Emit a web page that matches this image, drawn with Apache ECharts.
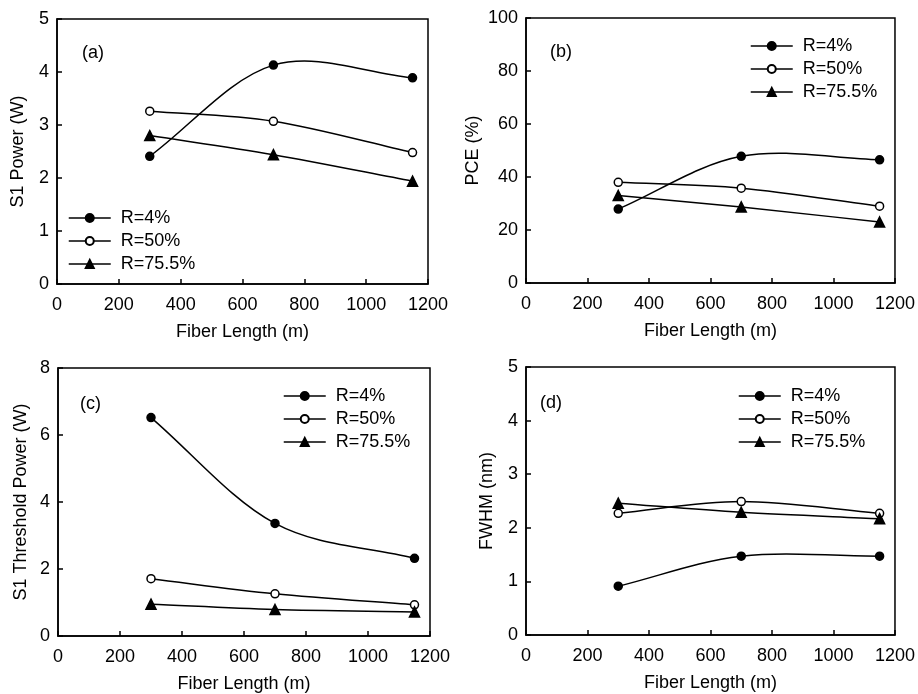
<!DOCTYPE html>
<html>
<head>
<meta charset="utf-8">
<script src="https://cdn.jsdelivr.net/npm/echarts@6/dist/echarts.min.js"></script>
<style>html,body{margin:0;padding:0;background:#fff}#c{width:918px;height:694px}</style>
</head>
<body>
<div id="c"></div>
<script>
const fiberLength = [300, 700, 1150];
const xTicks = [0, 200, 400, 600, 800, 1000, 1200];
const seriesNames = ['R=4%', 'R=50%', 'R=75.5%'];
const panelLabels = ['(a)', '(b)', '(c)', '(d)'];
const yTitles = ['S1 Power (W)', 'PCE (%)', 'S1 Threshold Power (W)', 'FWHM (nm)'];
const xTitle = 'Fiber Length (m)';

const s1Power4 = [2.41, 4.13, 3.89];
const s1Power50 = [3.26, 3.07, 2.48];
const s1Power755 = [2.80, 2.44, 1.94];

const pce4 = [27.9, 47.8, 46.5];
const pce50 = [38.0, 35.8, 29.0];
const pce755 = [33.0, 28.7, 23.0];

const threshold4 = [6.52, 3.36, 2.32];
const threshold50 = [1.71, 1.26, 0.93];
const threshold755 = [0.95, 0.79, 0.72];

const fwhm4 = [0.91, 1.47, 1.47];
const fwhm50 = [2.27, 2.49, 2.27];
const fwhm755 = [2.46, 2.29, 2.17];

const yMax = [5, 100, 8, 5];
const yInterval = [1, 20, 2, 1];
const panelData = [
  [s1Power4, s1Power50, s1Power755],
  [pce4, pce50, pce755],
  [threshold4, threshold50, threshold755],
  [fwhm4, fwhm50, fwhm755]
];

const FONT = '"Liberation Sans", Arial, Helvetica, sans-serif';
const grids = [
  {left: 57, top: 19, width: 371, height: 265},
  {left: 526, top: 18, width: 369, height: 265},
  {left: 58, top: 368, width: 372, height: 268},
  {left: 526, top: 367, width: 370, height: 268}
];
const yNameGaps = [30, 44, 28, 30];
const legendPos = [
  {left: 63, top: 204},
  {left: 745, top: 32},
  {left: 278, top: 382},
  {left: 733, top: 382}
];
const labelPos = [[82, 52], [550, 51], [80, 403], [540, 402]];

const symbols = ['circle', 'circle', 'triangle'];
const fills = ['#000', '#fff', '#000'];

// Catmull-Rom spline through the pixel positions of the data points
function splineRender(points) {
  return function (params, api) {
    if (params.dataIndex !== 0) return null;
    const p = points.map(pt => api.coord(pt));
    const n = p.length;
    const tan = p.map((pt, i) => {
      const a = p[Math.max(i - 1, 0)], b = p[Math.min(i + 1, n - 1)];
      const f = (i === 0 || i === n - 1) ? 1 : 0.5;
      return [(b[0] - a[0]) * f, (b[1] - a[1]) * f];
    });
    let d = 'M' + p[0][0] + ' ' + p[0][1];
    for (let i = 0; i < n - 1; i++) {
      const c1 = [p[i][0] + tan[i][0] / 3, p[i][1] + tan[i][1] / 3];
      const c2 = [p[i + 1][0] - tan[i + 1][0] / 3, p[i + 1][1] - tan[i + 1][1] / 3];
      d += ' C' + c1[0] + ' ' + c1[1] + ' ' + c2[0] + ' ' + c2[1] + ' ' + p[i + 1][0] + ' ' + p[i + 1][1];
    }
    return {
      type: 'path', shape: {pathData: d},
      style: {fill: null, stroke: '#000', lineWidth: 1.5}
    };
  };
}

const option = {
  backgroundColor: '#fff',
  animation: false,
  grid: grids.map(g => Object.assign({show: true, borderColor: '#000', borderWidth: 1.5, backgroundColor: 'transparent'}, g)),
  xAxis: grids.map((g, i) => ({
    type: 'value', gridIndex: i, min: xTicks[0], max: xTicks[xTicks.length - 1], interval: 200,
    name: xTitle, nameLocation: 'middle', nameGap: 39,
    nameTextStyle: {color: '#000', fontSize: 18, fontFamily: FONT},
    axisLine: {lineStyle: {color: '#000', width: 1.5}},
    axisTick: {inside: true, length: 5, lineStyle: {color: '#000', width: 1.5}},
    axisLabel: {color: '#000', fontSize: 18, fontFamily: FONT, margin: 12, formatter: v => String(v)},
    splitLine: {show: false}
  })),
  yAxis: grids.map((g, i) => ({
    type: 'value', gridIndex: i, min: 0, max: yMax[i], interval: yInterval[i],
    name: yTitles[i], nameLocation: 'middle', nameGap: yNameGaps[i], nameRotate: 90,
    nameTextStyle: {color: '#000', fontSize: 18, fontFamily: FONT},
    axisLine: {lineStyle: {color: '#000', width: 1.5}},
    axisTick: {inside: true, length: 5, lineStyle: {color: '#000', width: 1.5}},
    axisLabel: {color: '#000', fontSize: 18, fontFamily: FONT, margin: 8, formatter: v => String(v)},
    splitLine: {show: false}
  })),
  legend: legendPos.map(p => ({
    left: p.left, top: p.top, orient: 'vertical', data: seriesNames,
    itemWidth: 42, itemHeight: 10, itemGap: 5, selectedMode: false,
    lineStyle: {color: '#000', width: 1.5, opacity: 1},
    textStyle: {color: '#000', fontSize: 18, fontFamily: FONT, padding: [0, 0, 0, 5]}
  })),
  graphic: panelLabels.map((t, i) => ({
    type: 'text', left: labelPos[i][0], top: labelPos[i][1] - 8,
    style: {text: t, fill: '#000', font: '18px ' + FONT}
  })),
  series: []
};

panelData.forEach((arrs, gi) => {
  arrs.forEach((vals, si) => {
    const pts = fiberLength.map((x, k) => [x, vals[k]]);
    option.series.push({
      type: 'custom', name: seriesNames[si] + ' curve', xAxisIndex: gi, yAxisIndex: gi,
      data: pts, renderItem: splineRender(pts), z: 2, silent: true
    });
    option.series.push({
      type: 'line', name: seriesNames[si], xAxisIndex: gi, yAxisIndex: gi,
      data: pts,
      symbol: symbols[si], symbolSize: si === 2 ? 10 : 8, showAllSymbol: true,
      lineStyle: {color: '#000', width: 1.5, opacity: 0},
      itemStyle: {color: fills[si], borderColor: '#000', borderWidth: 1.5},
      z: 3
    });
  });
});

const chart = echarts.init(document.getElementById('c'), null, {renderer: 'canvas'});
chart.setOption(option);
</script>
</body>
</html>
